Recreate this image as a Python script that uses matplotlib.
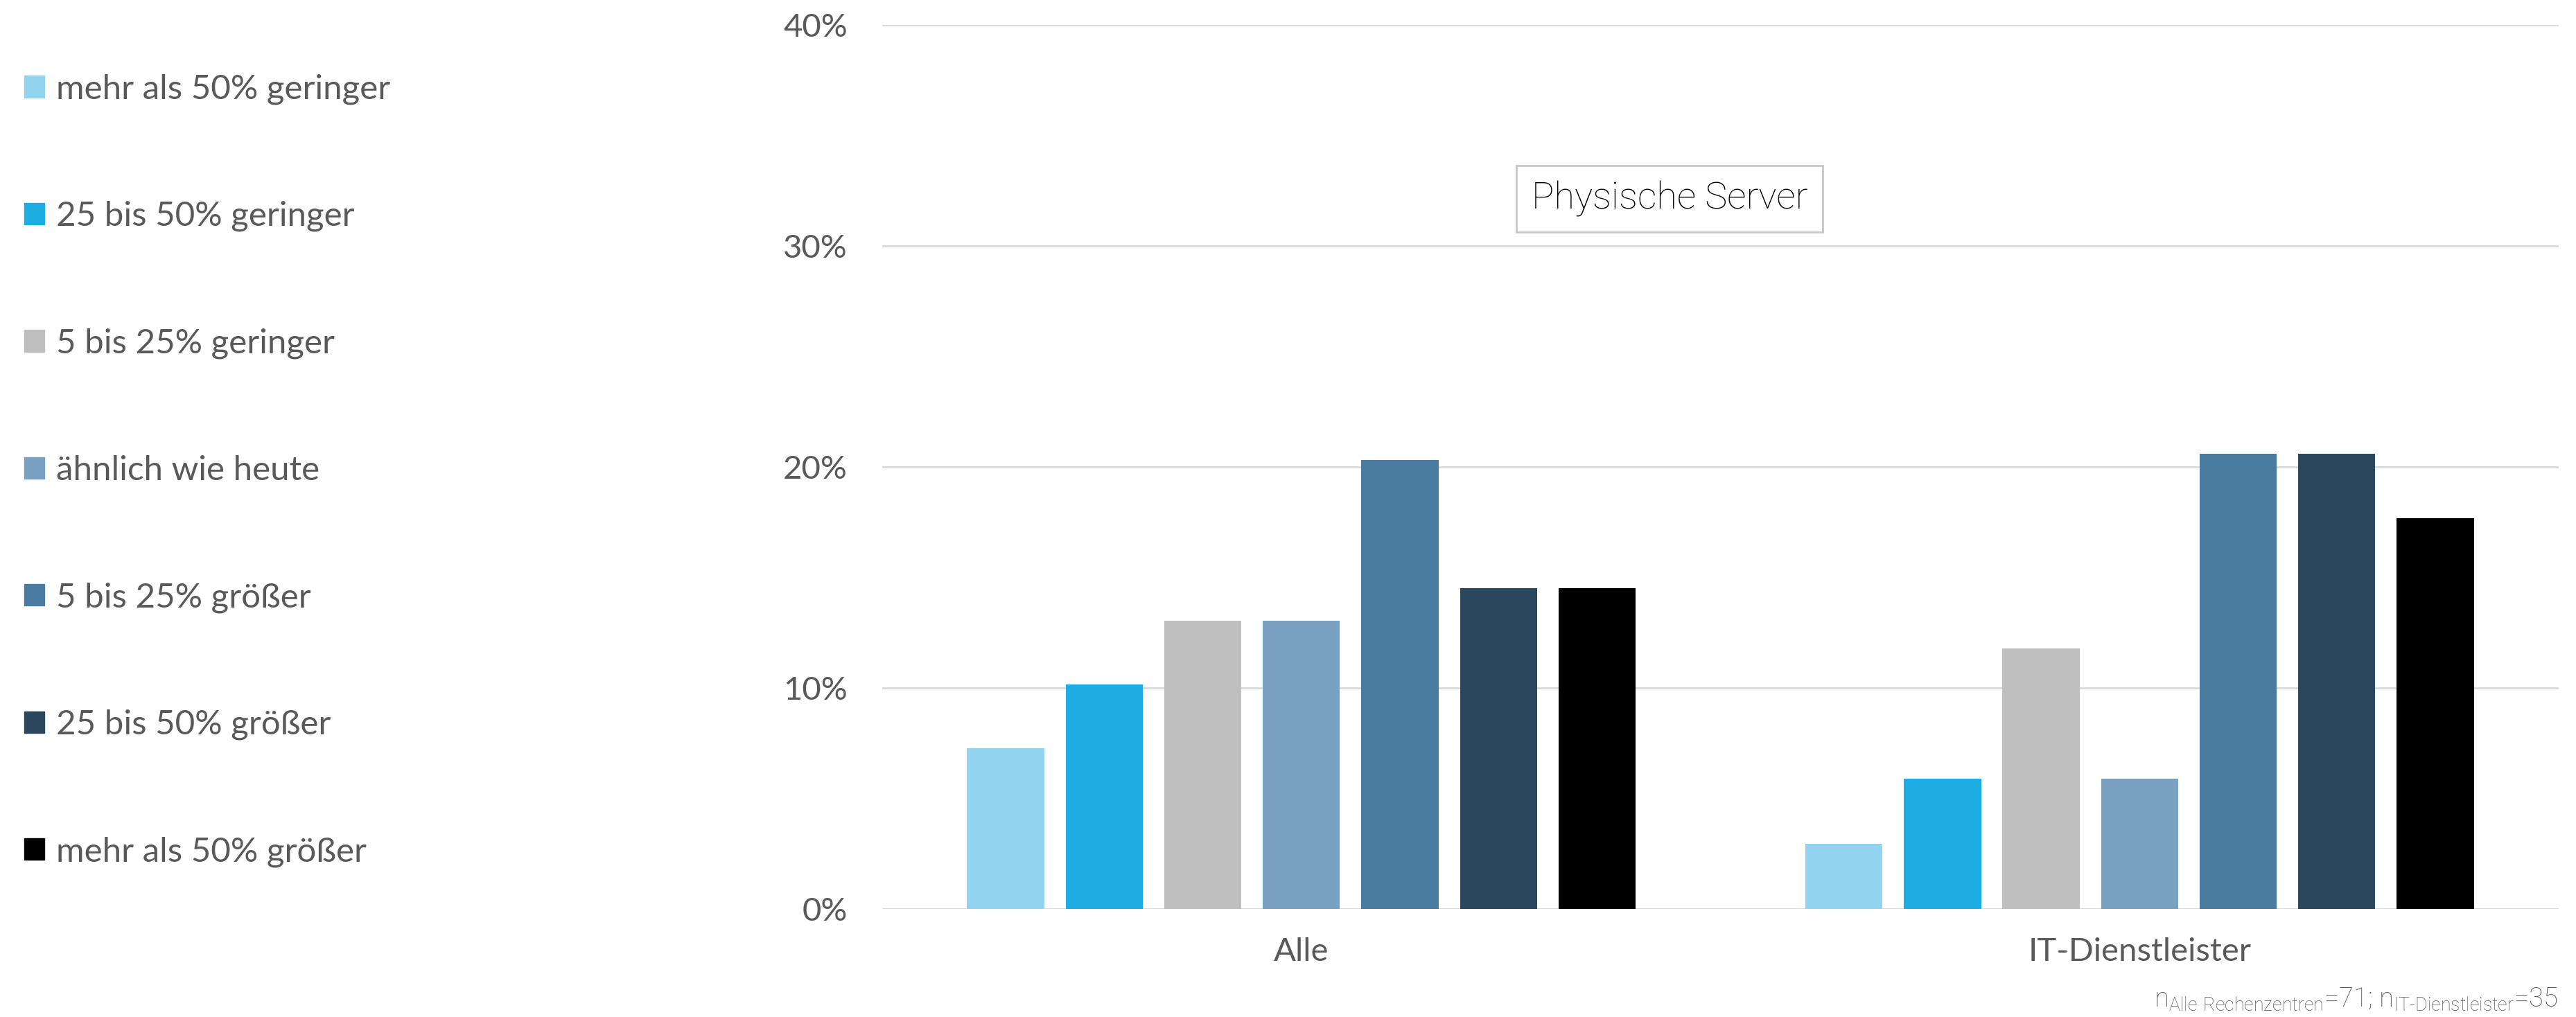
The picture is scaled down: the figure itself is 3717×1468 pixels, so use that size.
import matplotlib
matplotlib.use("Agg")
import matplotlib.pyplot as plt
from matplotlib.patches import Patch
from matplotlib.ticker import PercentFormatter
import numpy as np

# Daten
gruppen = ["Alle", "IT-Dienstleister"]
kategorien = ["mehr als 50% geringer", "25 bis 50% geringer", "5 bis 25% geringer",
              "ähnlich wie heute", "5 bis 25% größer", "25 bis 50% größer",
              "mehr als 50% größer"]
alle = [7.25, 10.14, 13.04, 13.04, 20.29, 14.49, 14.49]
it_dienstleister = [2.94, 5.88, 11.76, 5.88, 20.59, 20.59, 17.65]
farben = ["#92D4F0", "#1EADE3", "#BFBFBF", "#78A1C2", "#4A7BA0", "#2B475D", "#000000"]

grau = "#595959"
plt.rcParams["font.family"] = ["Lato", "DejaVu Sans"]
plt.rcParams["mathtext.fontset"] = "custom"
plt.rcParams["mathtext.rm"] = "Roboto"

fig = plt.figure(figsize=(37.17, 14.68), dpi=100)
ax = fig.add_axes([0.3425, 0.1066, 0.6508, 0.8692])

werte = np.array([alle, it_dienstleister])
x = np.arange(len(gruppen))
slot = 0.1176
for i, (name, farbe) in enumerate(zip(kategorien, farben)):
    ax.bar(x + (i - 3) * slot, werte[:, i], width=0.092, color=farbe,
           label=name, zorder=3)

ax.set_xlim(-0.5, 1.5)
ax.set_ylim(0, 40)
ax.set_yticks([0, 10, 20, 30, 40])
ax.yaxis.set_major_formatter(PercentFormatter(decimals=0))
ax.set_xticks(x)
ax.set_xticklabels(gruppen)
ax.tick_params(axis="both", length=0, labelsize=34, labelcolor=grau)
ax.tick_params(axis="y", pad=36)
ax.tick_params(axis="x", pad=30)
ax.grid(axis="y", color="#D9D9D9", linewidth=2)
for s in ax.spines.values():
    s.set_visible(False)

# Titel im Rahmen
ax.text(0.4696, 0.803, "Physische Server", transform=ax.transAxes, ha="center",
        va="center", fontsize=39, family="Roboto", fontweight="light",
        color="black",
        bbox=dict(boxstyle="square,pad=0.4", fc="white", ec="#C8C8C8", lw=2))

# Legende links
handles = [Patch(color=f, label=k) for k, f in zip(kategorien, farben)]
fig.legend(handles=handles, loc="upper left", bbox_to_anchor=(0.0, 0.951),
           frameon=False, fontsize=35.5, labelcolor=grau, handlelength=0.6,
           handleheight=0.6, handletextpad=0.35, labelspacing=2.82,
           borderaxespad=0.3)

# Stichprobengröße
fig.text(0.993, 0.004,
         r"$\mathregular{n_{Alle\ Rechenzentren}}$=71; $\mathregular{n_{IT‐Dienstleister}}$=35",
         ha="right", va="bottom", fontsize=27.5, color=grau, family="Roboto",
         fontweight="light")

fig.savefig("out.png", dpi=100, facecolor="white")
